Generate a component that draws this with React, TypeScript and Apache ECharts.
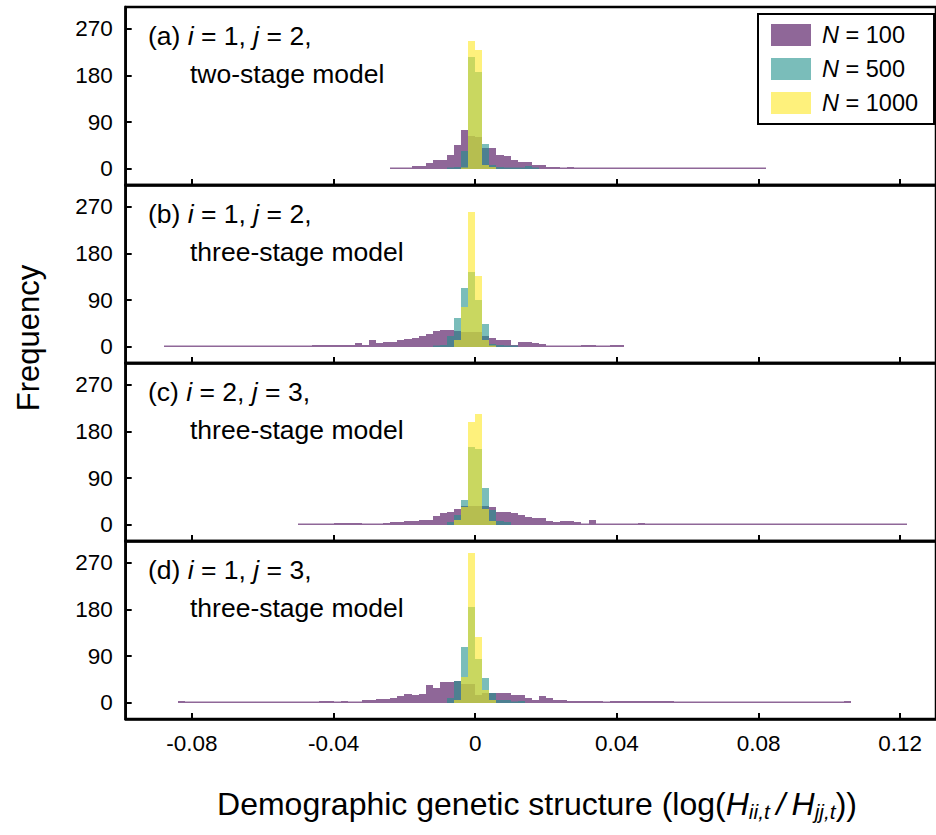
import React, { useEffect, useRef } from "react";
import * as echarts from "echarts";

// ---------- data ----------
const BIN = 0.002; // bin width of every histogram
const seriesNames = ["N = 100", "N = 500", "N = 1000"];
const xTicks = [-0.08, -0.04, 0, 0.04, 0.08, 0.12];
const yTicks = [0, 90, 180, 270];
const panelTags = ["(a)", "(b)", "(c)", "(d)"];
const panelI = ["1", "1", "2", "1"];
const panelJ = ["2", "2", "3", "3"];
const panelModels = ["two-stage model", "three-stage model", "three-stage model", "three-stage model"];

// counts per bin; *Start = index of first bin (bin k covers [k*BIN, (k+1)*BIN])
const aPurpleStart = -12;
const aPurple = [1, 1, 1, 5, 5, 11, 16, 17, 26, 45, 74, 64, 62, 40, 39, 26, 24, 16, 12, 12, 7, 7, 4, 4, 2, 4,
  2, 2, 1, 1, 1, 0, 2, 2, 0, 0, 0, 0, 0, 0, 0, 0, 0, 0, 0, 0, 0, 0, 0, 0, 0, 0, 1];
const aTealStart = -4;
const aTeal = [1, 3, 35, 215, 186, 48, 7, 4, 2, 1, 2, 6, 1];
const aYellowStart = -2;
const aYellow = [2, 247, 229, 8, 4];

const bPurpleStart = -44;
const bPurple = [1, 1, 2, 2, 1, 1, 2, 1, 1, 2, 1, 1, 2, 1, 1, 1, 2, 2, 2, 2, 2, 3, 3, 3, 4, 4, 4, 8, 4, 12,
  8, 10, 10, 13, 15, 17, 20, 24, 30, 32, 32, 31, 29, 29, 29, 21, 17, 13, 13, 4, 10, 10, 8, 5, 2, 2, 2, 2, 2, 4,
  4, 2, 2, 3, 3];
const bTealStart = -6;
const bTeal = [1, 4, 21, 55, 113, 145, 90, 44, 6, 3, 2, 1];
const bYellowStart = -3;
const bYellow = [12, 77, 259, 137, 12, 2];

const cPurpleStart = -25;
const cPurple = [1, 1, 1, 1, 1, 3, 3, 3, 3, 1, 2, 2, 4, 6, 6, 8, 8, 9, 10, 16,
  22, 24, 31, 37, 36, 36, 37, 35, 24, 24, 22, 18, 15, 13, 13, 8, 5, 7, 7, 6,
  1, 10, 1, 1, 1, 1, 1, 0, 3, 1, 1, 1, 0, 1, 1, 1, 1, 2, 2, 2, 2, 2, 1, 1, 1, 1, 2, 0, 2, 0,
  0, 0, 0, 0, 0, 0, 0, 0, 0, 0, 0, 0, 0, 0, 0, 2];
const cTealStart = -4;
const cTeal = [5, 18, 48, 150, 147, 71, 28, 8, 5];
const cYellowStart = -3;
const cYellow = [10, 34, 198, 214, 31, 8];

const dPurpleStart = -42;
const dPurple = [3, 0, 0, 0, 0, 0, 0, 0, 0, 0, 0, 0, 0, 0, 0, 0, 0, 0, 0, 0,
  3, 3, 0, 3, 2, 2, 5, 5, 8, 8, 10, 13, 16, 14, 17, 34, 28, 40, 40, 42,
  37, 37, 15, 18, 19, 18, 19, 15, 15, 10, 5, 12, 10, 5, 5, 4, 3, 3, 3, 3,
  0, 3, 3, 3, 3, 3, 3, 3, 3, 3, 0, 0, 0, 0, 0, 0, 0, 0, 0, 0, 0, 0, 0, 0, 0, 0, 0, 0, 0, 0,
  0, 0, 0, 0, 3];
const dTealStart = -4;
const dTeal = [10, 42, 107, 185, 84, 47, 19, 6, 5, 2, 3];
const dYellowStart = -3;
const dYellow = [5, 49, 289, 126, 24, 5];

const panels = [
  [[aPurpleStart, aPurple], [aTealStart, aTeal], [aYellowStart, aYellow]],
  [[bPurpleStart, bPurple], [bTealStart, bTeal], [bYellowStart, bYellow]],
  [[cPurpleStart, cPurple], [cTealStart, cTeal], [cYellowStart, cYellow]],
  [[dPurpleStart, dPurple], [dTealStart, dTeal], [dYellowStart, dYellow]],
] as [number, number[]][][];

// ---------- style ----------
const COLORS = ["rgba(68,1,84,0.6)", "rgba(33,145,140,0.6)", "rgba(253,231,37,0.6)"];
const FONT = "'Liberation Sans', Arial, Helvetica, sans-serif";
const GRID_LEFT = 125.7;
const GRID_TOP0 = 7;
const PANEL_H = 178;
const X_MIN = -0.0987;
const X_MAX = 0.1301;
const Y_MIN = -31.4;
const Y_MAX = 311.9;

function toBins(start: number, counts: number[]) {
  return counts.map((c, i) => {
    const k = start + i;
    return [+(k * BIN).toFixed(4), +((k + 1) * BIN).toFixed(4), c];
  });
}

const renderBar = (params: any, api: any) => {
  const x0 = api.value(0);
  const x1 = api.value(1);
  const c = api.value(2);
  const p0 = api.coord([x0, c]);
  const p1 = api.coord([x1, 0]);
  const left = Math.round(p0[0]);
  const right = Math.round(p1[0]);
  const base = Math.round(p1[1]);
  let topY = Math.round(p0[1]);
  if (base - topY < 1.5) topY = base - 1.5;
  return {
    type: "rect",
    shape: { x: left, y: topY, width: right - left, height: base - topY },
    style: { fill: api.visual("color") },
  };
};

function buildOption() {
  const grids: any[] = [];
  const xAxes: any[] = [];
  const yAxes: any[] = [];
  const series: any[] = [];
  const graphics: any[] = [];

  panels.forEach((panel, p) => {
    const top = GRID_TOP0 + p * PANEL_H;
    const last = p === panels.length - 1;
    grids.push({
      left: GRID_LEFT,
      right: -4,
      top,
      height: PANEL_H,
      show: true,
      borderColor: "#000",
      borderWidth: 2.5,
      backgroundColor: "transparent",
      containLabel: false,
    });
    xAxes.push({
      type: "value",
      gridIndex: p,
      min: X_MIN,
      max: X_MAX,
      axisLine: { show: true, onZero: false, lineStyle: { color: "#000", width: 2.5 } },
      axisTick: { show: true, inside: true, length: 6, customValues: xTicks, lineStyle: { color: "#000", width: 2 } },
      axisLabel: {
        show: last,
        customValues: xTicks,
        color: "#000",
        fontSize: 22.5,
        fontFamily: FONT,
        margin: 13,
        formatter: (v: number) => String(+v.toFixed(2)),
      },
      splitLine: { show: false },
    });
    yAxes.push({
      type: "value",
      gridIndex: p,
      min: Y_MIN,
      max: Y_MAX,
      axisLine: { show: true, onZero: false, lineStyle: { color: "#000", width: 2.5 } },
      axisTick: { show: true, inside: true, length: 6, customValues: yTicks, lineStyle: { color: "#000", width: 2 } },
      axisLabel: {
        show: true,
        customValues: yTicks,
        color: "#000",
        fontSize: 22.5,
        fontFamily: FONT,
        margin: 13,
      },
      splitLine: { show: false },
    });
    panel.forEach(([start, counts], s) => {
      series.push({
        type: "custom",
        name: seriesNames[s],
        xAxisIndex: p,
        yAxisIndex: p,
        data: toBins(start, counts),
        encode: { x: [0, 1], y: 2 },
        renderItem: renderBar,
        itemStyle: { color: COLORS[s] },
        z: 2 + s,
      });
    });
    graphics.push({
      type: "text",
      left: 148,
      top: top + 15,
      style: {
        text: `${panelTags[p]} {it|i} = ${panelI[p]}, {it|j} = ${panelJ[p]},`,
        fontSize: 26.5,
        fontFamily: FONT,
        fill: "#000",
        rich: { it: { fontStyle: "italic", fontSize: 26.5, fontFamily: FONT, fill: "#000" } },
      },
    });
    graphics.push({
      type: "text",
      left: 190,
      top: top + 53,
      style: { text: panelModels[p], fontSize: 26.5, fontFamily: FONT, fill: "#000" },
    });
  });

  graphics.push({
    type: "text",
    x: 28,
    y: 338,
    rotation: Math.PI / 2,
    style: {
      text: "Frequency",
      fontSize: 31,
      fontFamily: FONT,
      fill: "#000",
      align: "center",
      verticalAlign: "middle",
    },
  });
  graphics.push({
    type: "text",
    x: 537,
    y: 804,
    style: {
      text: "Demographic genetic structure (log({h|H}{s|ii,t}{sl|\u2009/\u2009}{h|H}{s|jj,t}))",
      fontSize: 32,
      fontFamily: FONT,
      fill: "#000",
      align: "center",
      verticalAlign: "middle",
      lineHeight: 36,
      rich: {
        h: { fontStyle: "italic", fontSize: 32, fontFamily: FONT, fill: "#000", lineHeight: 36 },
        s: { fontStyle: "italic", fontSize: 21, fontFamily: FONT, fill: "#000", lineHeight: 10, verticalAlign: "bottom" },
        sl: { fontStyle: "italic", fontSize: 32, fontFamily: FONT, fill: "#000", lineHeight: 36 },
      },
    },
  });

  return {
    animation: false,
    backgroundColor: "#fff",
    grid: grids,
    xAxis: xAxes,
    yAxis: yAxes,
    series,
    graphic: graphics,
    legend: {
      data: seriesNames,
      orient: "vertical",
      left: 758,
      top: 14,
      icon: "rect",
      itemWidth: 40,
      itemHeight: 22,
      itemGap: 10,
      padding: [9, 16, 9, 13],
      borderColor: "#000",
      borderWidth: 2,
      backgroundColor: "#fff",
      selectedMode: false,
      formatter: (name: string) => name.replace("N", "{it|N}"),
      textStyle: {
        fontSize: 23.5,
        fontFamily: FONT,
        color: "#000",
        padding: [0, 0, 0, 6],
        rich: { it: { fontStyle: "italic", fontSize: 23.5, fontFamily: FONT, color: "#000" } },
      },
    },
  };
}

export default function App() {
  const ref = useRef<HTMLDivElement>(null);
  useEffect(() => {
    document.body.style.margin = "0";
    document.body.style.overflow = "hidden";
    if (!ref.current) return;
    const chart = echarts.init(ref.current, undefined, { renderer: "svg" });
    chart.setOption(buildOption() as any);
    return () => chart.dispose();
  }, []);
  return <div ref={ref} style={{ width: 936, height: 835 }} />;
}
